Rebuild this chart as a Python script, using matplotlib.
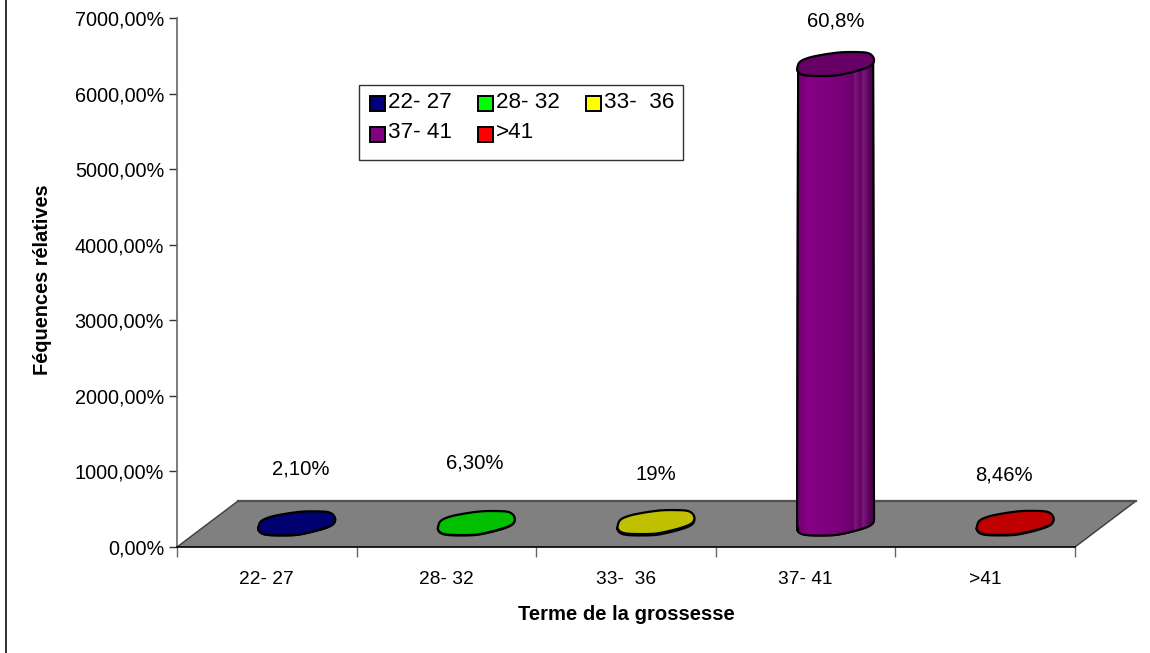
import numpy as np
import matplotlib
matplotlib.use("Agg")
import matplotlib.pyplot as plt
from matplotlib.patches import Polygon, Rectangle
from matplotlib.colors import LinearSegmentedColormap
from matplotlib.lines import Line2D

categories = ["22- 27", "28- 32", "33-  36", "37- 41", ">41"]
values = [2.1, 6.3, 19, 6080, 8.46]
value_labels = ["2,10%", "6,30%", "19%", "60,8%", "8,46%"]
yticks = [0, 1000, 2000, 3000, 4000, 5000, 6000, 7000]
ytick_labels = ["0,00%", "1000,00%", "2000,00%", "3000,00%", "4000,00%",
                "5000,00%", "6000,00%", "7000,00%"]
side_colors = ["#000080", "#00FF00", "#FFFF00", "#800080", "#FF0000"]
top_colors = ["#000070", "#00C000", "#C0C000", "#660066", "#C00000"]
legend_rows = [[0, 1, 2], [3, 4]]

W, H = 1150, 653
plt.rcParams["font.family"] = ["Liberation Sans", "DejaVu Sans"]
fig = plt.figure(figsize=(W / 100, H / 100), dpi=100, facecolor="white")

AX_L, AX_R, AX_T, AX_B = 177, 1075, 18, 547
ax = fig.add_axes([AX_L / W, 1 - AX_B / H, (AX_R - AX_L) / W, (AX_B - AX_T) / H])
ax.set_xlim(0, 5)
ax.set_ylim(0, 7000)
ax.patch.set_alpha(0)

pxx = 5 / (AX_R - AX_L)      # data units per pixel, x
pxy = 7000 / (AX_B - AX_T)   # data units per pixel, y

# floor of the 3-D chart (depth offset in pixels)
DX, DY = 61, 46
ax.add_patch(Polygon([(0, 0), (5, 0), (5 + DX * pxx, DY * pxy), (DX * pxx, DY * pxy)],
                     closed=True, facecolor="#808080", edgecolor="none",
                     clip_on=False, zorder=1))
ax.plot([0, DX * pxx], [0, DY * pxy], color="#3c3c3c", lw=1.0, clip_on=False, zorder=1.5)
ax.plot([5 + DX * pxx, 5], [DY * pxy, 0], color="#3c3c3c", lw=1.0, clip_on=False, zorder=1.5)
ax.plot([DX * pxx, 5 + DX * pxx], [DY * pxy, DY * pxy], color="#505050", lw=1.6,
        clip_on=False, zorder=1.5)


def chaikin(pts, n=2):
    """Round the corners of a closed outline."""
    for _ in range(n):
        nxt = np.roll(pts, -1, axis=0)
        a, b = 0.75 * pts + 0.25 * nxt, 0.25 * pts + 0.75 * nxt
        out = np.empty((2 * len(pts), 2))
        out[0::2] = a
        out[1::2] = b
        pts = out
    return pts


# irregular cylinder section, pixel offsets from its centre (x right, y up)
outline = np.array([(-38.5, -3.5), (-36.5, 3), (-27, 7), (-15, 9.5), (-2, 11.5), (8, 12.5),
                    (22, 12.5), (32, 12), (37, 9), (39, 4), (36, -1.5), (23.3, -6),
                    (6.7, -10), (-3.3, -11.5), (-26.7, -11.5), (-35, -10), (-38.5, -6.5)])
shape = chaikin(outline)
CX_OFF, CY_OFF = 30, 23
EDGE = 37.5
lower = shape[shape[:, 1] < 5.0]
lower = lower[(lower[:, 1] < -2) | (lower[:, 0] > 0)]
lower = lower[np.argsort(-lower[:, 0])]

ramp = LinearSegmentedColormap.from_list(
    "r", [(0, "#6e006e"), (0.12, "#860086"), (0.35, "#800080"), (0.62, "#760076"),
          (0.74, "#6a006a"), (0.76, "#7a1a7a"), (0.84, "#640064"), (0.87, "#7a1a7a"),
          (0.95, "#5e005e"), (1, "#4a004a")])

for i, (v, side, top) in enumerate(zip(values, side_colors, top_colors)):
    cx = i + 0.5 + CX_OFF * pxx
    cy = CY_OFF * pxy
    bx, by = cx + lower[:, 0] * pxx, cy + lower[:, 1] * pxy
    tx, ty = cx + shape[:, 0] * pxx, cy + v + shape[:, 1] * pxy
    body = np.vstack([np.column_stack([bx, by]),
                      [(cx - EDGE * pxx, cy + v - 3 * pxy), (cx + EDGE * pxx, cy + v + 5 * pxy)]])
    ax.add_patch(Polygon(body, closed=True, facecolor=side, edgecolor="black", lw=1.5,
                         clip_on=False, zorder=3, joinstyle="round"))
    if v > 500:
        im = ax.imshow(np.linspace(0, 1, 300)[None, :], cmap=ramp, aspect="auto",
                       extent=(cx - EDGE * pxx, cx + EDGE * pxx, cy - 12 * pxy, cy + v + 6 * pxy),
                       zorder=3.2, clip_on=True)
        im.set_clip_path(Polygon(body, closed=True, transform=ax.transData))
        ax.add_patch(Polygon(body, closed=True, facecolor="none", edgecolor="black", lw=1.5,
                             clip_on=False, zorder=3.4))
    ax.add_patch(Polygon(np.column_stack([tx, ty]), closed=True, facecolor=top,
                         edgecolor="black", lw=1.6, clip_on=False, zorder=4, joinstyle="round"))

ax.set_xlim(0, 5)
ax.set_ylim(0, 7000)

# value labels (pixel positions)
label_pos = [(301, 469), (475, 463), (656, 475), (836, 21), (1004, 475)]
for (px, py), s in zip(label_pos, value_labels):
    fig.text(px / W, 1 - py / H, s, fontsize=14.6, ha="center", va="center", color="black")

# axes
for s in ("top", "right"):
    ax.spines[s].set_visible(False)
ax.spines["left"].set_color("#666666")
ax.spines["left"].set_linewidth(1.2)
ax.spines["bottom"].set_color("black")
ax.spines["bottom"].set_linewidth(1.2)
ax.spines["left"].set_zorder(2)
ax.spines["bottom"].set_zorder(2)
ax.set_yticks(yticks)
ax.set_yticklabels(ytick_labels, fontsize=14.3, color="black")
ax.tick_params(axis="y", length=5.8, width=1.0, color="#333333", pad=3.5)
ax.set_xticks(range(6))
ax.set_xticklabels([])
ax.tick_params(axis="x", length=7.4, width=1.0, color="#666666")
for i, c in enumerate(categories):
    ax.annotate(c, (i + 0.5, 0), xytext=(0, -33 * 0.72), textcoords="offset points",
                ha="center", va="center", fontsize=13.8)

fig.text(42.5 / W, 1 - 280 / H, "Féquences rélatives", rotation=90, fontsize=14.4, fontweight="bold",
         ha="center", va="center")
fig.text(626 / W, 1 - 615 / H, "Terme de la grossesse", fontsize=14.6, fontweight="bold",
         ha="center", va="center")


# legend box
def fr(x, y):
    return x / W, 1 - y / H


lx0, ly0, lx1, ly1 = 359, 85, 683, 160
fig.add_artist(Rectangle(fr(lx0, ly1), (lx1 - lx0) / W, (ly1 - ly0) / H, transform=fig.transFigure,
                         facecolor="white", edgecolor="#333333", lw=1.0, zorder=6))
col_x = [370, 478, 586]
row_y = [103, 134]
for r, row in enumerate(legend_rows):
    for c, idx in enumerate(row):
        x, y = col_x[c], row_y[r]
        fig.add_artist(Rectangle(fr(x, y + 8), 15 / W, 15 / H, transform=fig.transFigure,
                                 facecolor=side_colors[idx], edgecolor="black", lw=1.4, zorder=7))
        fig.text((x + 18) / W, 1 - (y - r) / H, categories[idx], fontsize=16.2, ha="left",
                 va="center", zorder=7)

# outer frame: only the left edge is visible
fig.add_artist(Line2D([6 / W, 6 / W], [0, 1], transform=fig.transFigure, color="#222222", lw=1.3))

fig.savefig("out.png", dpi=100)
